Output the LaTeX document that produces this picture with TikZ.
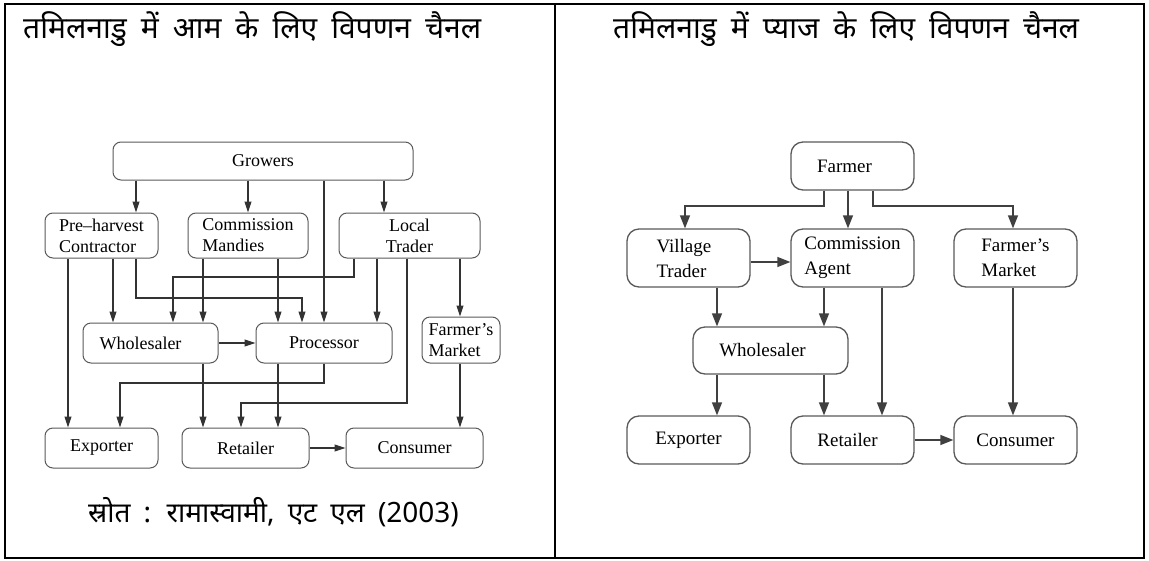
\documentclass[tikz,border=0pt]{standalone}
\usepackage{fontspec}
\setmainfont{Liberation Serif}
\newfontfamily\hindi[Script=Devanagari,WordSpace=1.8]{Noto Sans}
\usetikzlibrary{arrows.meta}
\begin{document}
\begin{tikzpicture}[x=1pt,y=-1pt,
  lbox/.style={draw=black!65,line width=1pt,rounded corners=8pt,inner sep=0pt,font=\fontsize{18}{21}\selectfont},
  rbox/.style={draw=black!65,line width=1.3pt,rounded corners=12pt,inner sep=0pt,font=\fontsize{19}{25}\selectfont,minimum width=123pt,minimum height=48pt},
  larr/.style={draw=black!80,line width=1.1pt,-{Triangle[length=11pt,width=7pt]}},
  rarr/.style={draw=black!75,line width=1.3pt,-{Triangle[length=13pt,width=10pt]}},
  title/.style={font=\hindi\fontsize{30}{32}\selectfont,inner sep=0pt}
]
\useasboundingbox (0,0) rectangle (1149,560);
\draw[line width=2pt] (5,4) rectangle (1144,558);
\draw[line width=2pt] (555,4) -- (555,558);

% titles
\node[title,anchor=base west] (t1) at (23,38) {तमिलनाडु में आम के लिए विपणन चैनल};
\node[title,anchor=base west] (t2) at (613,38) {तमिलनाडु में प्याज के लिए विपणन चैनल};
\node[title,anchor=base west,font=\hindi\fontsize{28}{30}\selectfont] (src) at (88,522) {स्रोत : रामास्वामी, एट एल (2003)};

% ---------- left diagram ----------
\node[lbox,minimum width=300pt,minimum height=38pt] (G) at (263,161) {Growers};
\node[lbox,minimum width=113pt,minimum height=45pt,align=left] (PH) at (101.5,235.5) {Pre--harvest\\Contractor};
\node[lbox,minimum width=120pt,minimum height=45pt,align=left] (CM) at (248,235.5) {Commission\\Mandies};
\node[lbox,minimum width=141pt,minimum height=45pt,align=center] (LT) at (409.5,235.5) {Local\\Trader};
\node[lbox,minimum width=135pt,minimum height=40pt] (W) at (150.5,343) {Wholesaler\hspace*{20pt}};
\node[lbox,minimum width=136pt,minimum height=40pt] (P) at (324,343) {Processor};
\node[lbox,minimum width=78pt,minimum height=46pt,align=left] (FM) at (461,340) {Farmer's\\Market};
\node[lbox,minimum width=113pt,minimum height=40pt] (E) at (101.5,448) {Exporter};
\node[lbox,minimum width=127pt,minimum height=40pt] (R) at (245.5,448) {Retailer};
\node[lbox,minimum width=137pt,minimum height=40pt] (C) at (414.5,448) {Consumer};

\draw[larr] (G.south -| 136,0) -- (PH.north -| 136,0);
\draw[larr] (G.south -| 248,0) -- (CM.north -| 248,0);
\draw[larr] (G.south -| 384,0) -- (LT.north -| 384,0);
\draw[larr] (G.south -| 324,0) -- (P.north -| 324,0);
\draw[larr] (PH.south -| 68,0) -- (E.north -| 68,0);
\draw[larr] (PH.south -| 113,0) -- (W.north -| 113,0);
\draw[larr] (PH.south -| 136,0) |- (302,298) -- (P.north -| 302,0);
\draw[larr] (CM.south -| 203,0) -- (W.north -| 203,0);
\draw[larr] (CM.south -| 278,0) -- (P.north -| 278,0);
\draw[larr] (LT.south -| 354,0) |- (173,277) -- (W.north -| 173,0);
\draw[larr] (LT.south -| 377,0) -- (P.north -| 377,0);
\draw[larr] (LT.south -| 407,0) |- (241,403) -- (R.north -| 241,0);
\draw[larr] (LT.south -| 460,0) -- (FM.north -| 460,0);
\draw[larr] (W.east) -- (P.west);
\draw[larr] (W.south -| 203,0) -- (R.north -| 203,0);
\draw[larr] (P.south -| 278,0) -- (R.north -| 278,0);
\draw[larr] (P.south -| 324,0) |- (120,383) -- (E.north -| 120,0);
\draw[larr] (FM.south -| 460,0) -- (C.north -| 460,0);
\draw[larr] (R.east) -- (C.west);

% ---------- right diagram ----------
\node[rbox] (F) at (852.5,166) {Farmer\hspace*{16pt}};
\node[rbox,minimum height=58pt,align=left] (VT) at (688.5,258) {Village\\Trader\hspace*{14pt}};
\node[rbox,minimum height=58pt,align=left] (CA) at (852.5,258) {Commission\\Agent};
\node[rbox,minimum height=58pt,align=left] (FR) at (1015.5,258) {Farmer's\\Market};
\node[rbox,minimum width=155pt,minimum height=47pt] (WR) at (770.5,350.5) {Wholesaler\hspace*{16pt}};
\node[rbox] (ER) at (688.5,440) {Exporter};
\node[rbox] (RR) at (852.5,440) {Retailer\hspace*{10pt}};
\node[rbox] (CR) at (1015.5,440) {Consumer};

\draw[rarr] (F.south -| 824,0) |- (685,206) -- (VT.north -| 685,0);
\draw[rarr] (F.south -| 848,0) -- (CA.north -| 848,0);
\draw[rarr] (F.south -| 873,0) |- (1013,206) -- (FR.north -| 1013,0);
\draw[rarr] (VT.east |- 0,262) -- (CA.west |- 0,262);
\draw[rarr] (VT.south -| 717,0) -- (WR.north -| 717,0);
\draw[rarr] (CA.south -| 824,0) -- (WR.north -| 824,0);
\draw[rarr] (CA.south -| 882,0) -- (RR.north -| 882,0);
\draw[rarr] (FR.south -| 1013,0) -- (CR.north -| 1013,0);
\draw[rarr] (WR.south -| 717,0) -- (ER.north -| 717,0);
\draw[rarr] (WR.south -| 824,0) -- (RR.north -| 824,0);
\draw[rarr] (RR.east) -- (CR.west);
\end{tikzpicture}
\end{document}
